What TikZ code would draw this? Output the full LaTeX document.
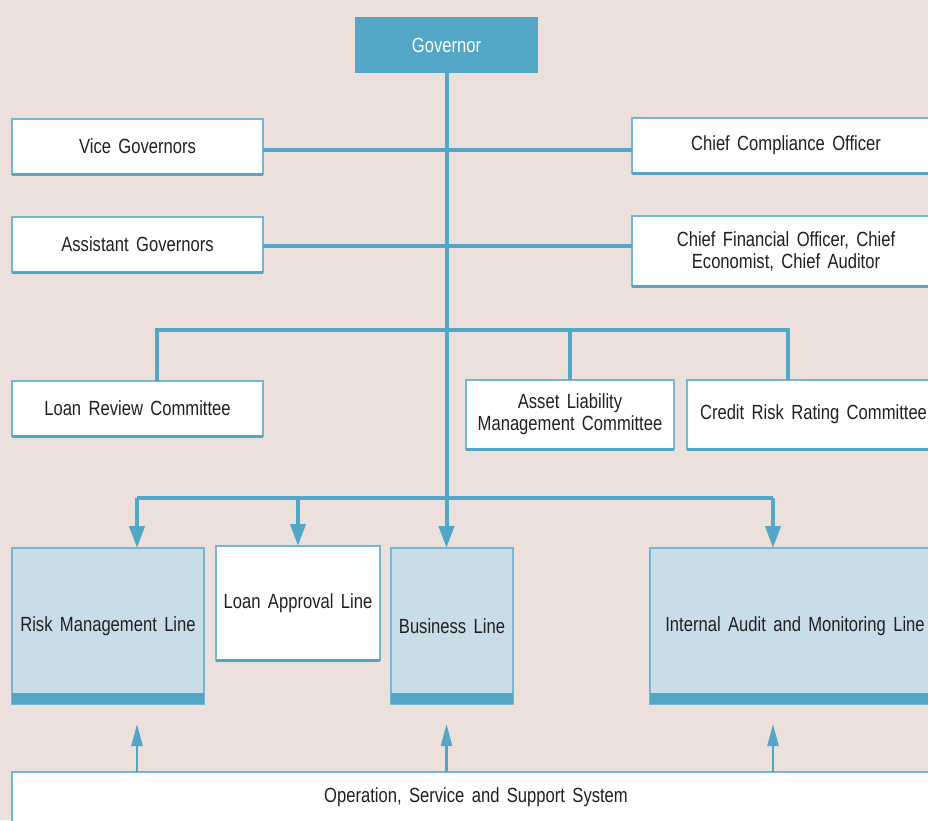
\documentclass[tikz,border=0pt]{standalone}
\usepackage{fontspec}
\setmainfont{Liberation Sans}[FakeStretch=0.81,WordSpace=1.6]
\usetikzlibrary{arrows.meta}
\definecolor{bgc}{RGB}{235,224,220}
\definecolor{mainblue}{RGB}{82,166,198}
\definecolor{lightfill}{RGB}{201,221,233}
\definecolor{edgeblue}{RGB}{115,183,210}
\definecolor{txt}{RGB}{35,31,32}
\tikzset{
  box/.style={draw=edgeblue,line width=1.2pt,fill=white,anchor=north west,inner sep=0pt,outer sep=0pt,
    text=txt,align=center,font=\fontsize{20.5}{22}\selectfont},
  lbox/.style={box,fill=lightfill},
  govbox/.style={box,fill=mainblue,draw=none,text=white},
  botrule/.style={draw=mainblue,line width=3pt},
  band/.style={fill=mainblue},
  conn/.style={draw=mainblue,line width=4pt},
  arr/.style={conn,-{Triangle[length=22pt,width=15pt]}},
  uarr/.style={draw=mainblue,line width=2.5pt,-{Triangle[length=22pt,width=11pt]}}
}
\begin{document}
\begin{tikzpicture}[x=1pt,y=-1pt]
\useasboundingbox (0,0) rectangle (928,820);
\clip (0,0) rectangle (928,820);
\fill[bgc] (0,0) rectangle (928,820);

% nodes
\node[govbox,minimum width=183pt,minimum height=56pt] (gov) at (355,17) {Governor};
\node[box,minimum width=251pt,minimum height=55pt] (vg) at (12,119) {Vice Governors};
\node[box,minimum width=308pt,minimum height=55pt] (cco) at (632,118) {Chief Compliance Officer};
\node[box,minimum width=251pt,minimum height=55pt] (ag) at (12,217) {Assistant Governors};
\node[box,minimum width=308pt,minimum height=70pt] (cfo) at (632,216) {Chief Financial Officer, Chief\\Economist, Chief Auditor};
\node[box,minimum width=251pt,minimum height=55pt] (lrc) at (12,381) {Loan Review Committee};
\node[box,minimum width=208pt,minimum height=69pt] (alm) at (466,380) {Asset Liability\\Management Committee};
\node[box,minimum width=253pt,minimum height=69pt] (crr) at (687,380) {Credit Risk Rating Committee};
\node[lbox,minimum width=192pt,minimum height=156pt] (rm) at (12,548) {Risk Management Line};
\node[box,minimum width=164pt,minimum height=114pt] (la) at (216,546) {Loan Approval Line};
\node[lbox,minimum width=122pt,minimum height=156pt] (bl) at (391,548) {Business Line};
\node[lbox,minimum width=290pt,minimum height=156pt] (ia) at (650,548) {Internal Audit and Monitoring Line};
\node[box,minimum width=928pt,minimum height=50pt] (oss) at (12,772) {Operation, Service and Support System};

% bottom rules and bands
\foreach \n in {vg,cco,ag,cfo,lrc,alm,crr,la}
  \draw[botrule] ([yshift=-0.3pt]\n.south west) -- ([yshift=-0.3pt]\n.south east);
\foreach \n in {rm,bl,ia}
  \fill[band] (\n.south west) rectangle ([yshift=11pt]\n.south east);

% coordinates
\coordinate (lrctop) at (157,381);
\coordinate (cbus) at (600,330);
\coordinate (crrtop) at (788,380);
\coordinate (lbusL) at (137,498);
\coordinate (lbusR) at (773,498);
\coordinate (rmtop) at (137,548);
\coordinate (iatop) at (773,548);
\coordinate (u1) at (137,724);
\coordinate (u2) at (446.5,724);
\coordinate (u3) at (773,724);

% connectors
\draw[conn] ([yshift=-3.5pt]vg.east) -- ([yshift=-3.5pt]vg.east -| cco.west);
\draw[conn] ([yshift=-1.5pt]ag.east) -- ([yshift=-1.5pt]ag.east -| cfo.west);
\draw[conn] (lrctop) |- (cbus) -| (crrtop);
\draw[conn] (alm.north) -- (alm.north |- cbus);
\draw[conn] (lbusL) -- (lbusR);
\draw[arr] (gov.south) -- (gov.south |- bl.north);
\draw[arr] (lbusL) -- (rmtop);
\draw[arr] (la.north |- lbusL) -- (la.north);
\draw[arr] (lbusR) -- (iatop);
\draw[uarr] (u1 |- oss.north) -- (u1);
\draw[uarr] (u2 |- oss.north) -- (u2);
\draw[uarr] (u3 |- oss.north) -- (u3);
\end{tikzpicture}
\end{document}
